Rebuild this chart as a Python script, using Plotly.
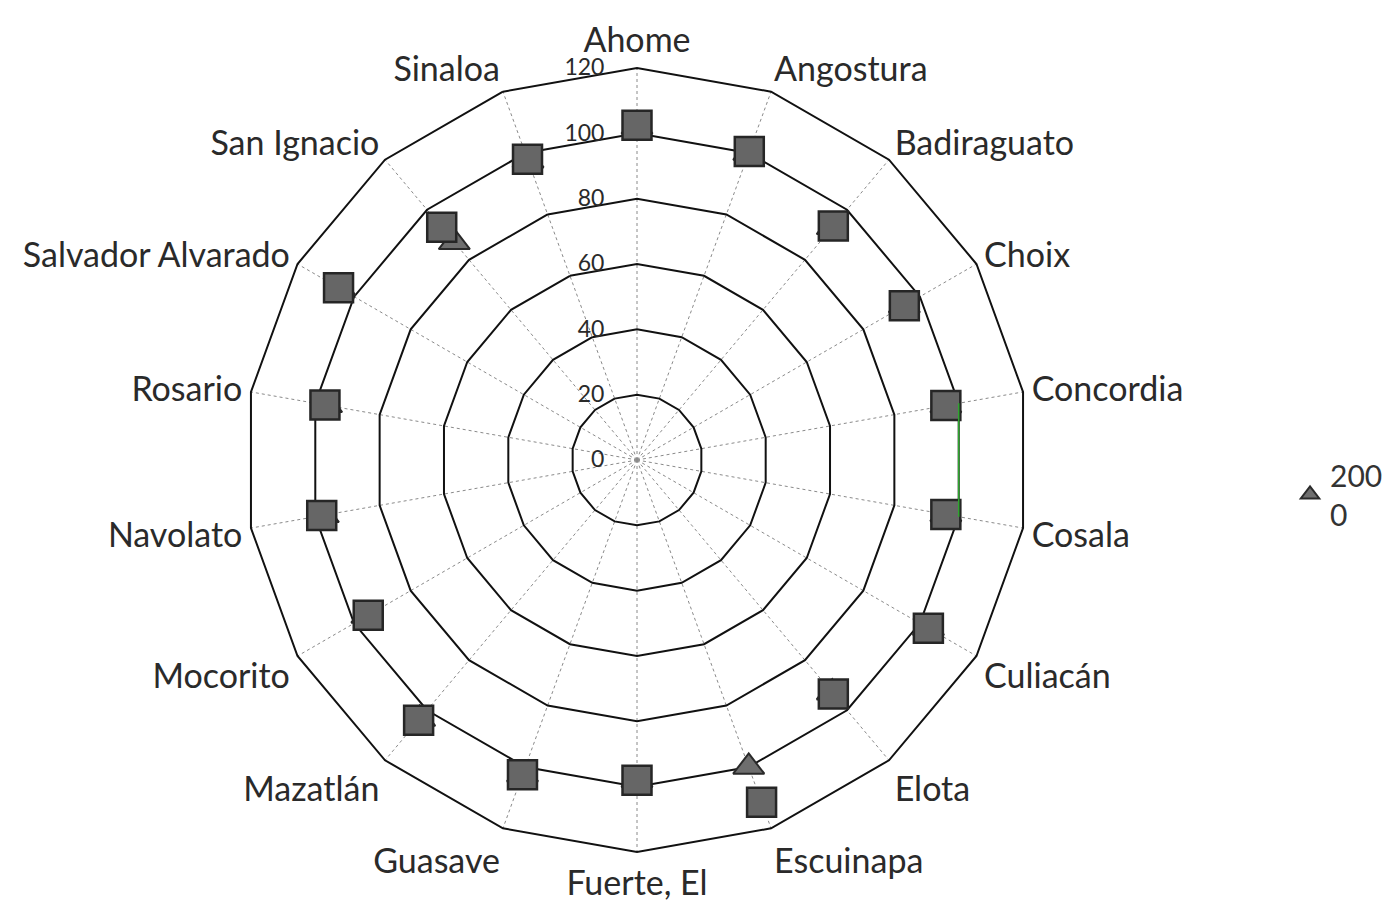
import plotly.graph_objects as go

categories = ["Ahome", "Angostura", "Badiraguato", "Choix", "Concordia", "Cosala",
              "Culiacán", "Elota", "Escuinapa", "Fuerte, El", "Guasave", "Mazatlán",
              "Mocorito", "Navolato", "Rosario", "Salvador Alvarado", "San Ignacio", "Sinaloa"]

series_2000 = [102, 100, 93, 94.5, 96, 96, 103, 93, 100, 98, 102.5, 103.5,
               95.5, 97.5, 96.5, 105, 87, 97.5]
series_2010 = [102.5, 100.5, 93.5, 94.5, 96, 96, 103, 93.5, 111.5, 98, 102.5, 104,
               95, 98, 97, 105.5, 93, 98]

highlight_cats = ["Concordia", "Cosala"]
highlight_vals = [100, 100]

radial_ticks = [0, 20, 40, 60, 80, 100, 120]

fig = go.Figure()

fig.add_trace(go.Scatterpolar(
    r=series_2000, theta=categories, mode="markers", name="200<br>0",
    marker=dict(symbol="triangle-up", size=27, color="#6e6e6e",
                line=dict(color="#2a2a2a", width=2)),
))
fig.add_trace(go.Scatterpolar(
    r=series_2010, theta=categories, mode="markers", name="2010",
    showlegend=False,
    marker=dict(symbol="square", size=29, color="#666666",
                line=dict(color="#262626", width=2.5)),
))
fig.add_trace(go.Scatterpolar(
    r=highlight_vals, theta=highlight_cats, mode="lines", showlegend=False,
    line=dict(color="#2fa52f", width=1.5),
))

cx, cy, R = 629, 452, 392
W, H = 1392, 911

fig.update_layout(
    width=W, height=H,
    margin=dict(l=0, r=0, t=0, b=0),
    paper_bgcolor="white",
    font=dict(family="Lato", color="#222222"),
    polar=dict(
        domain=dict(x=[(cx - R) / W, (cx + R) / W], y=[(H - cy - R) / H, (H - cy + R) / H]),
        bgcolor="white",
        gridshape="linear",
        angularaxis=dict(
            rotation=90, direction="clockwise", type="category",
            categoryorder="array", categoryarray=categories,
            showline=True, linecolor="#111111", linewidth=2,
            showgrid=True, gridcolor="#8a8a8a", gridwidth=1, griddash="dot",
            ticks="outside", ticklen=1, tickcolor="rgba(0,0,0,0)",
            tickfont=dict(size=34, family="Lato", color="#2a2a2a"),
        ),
        radialaxis=dict(
            range=[0, 120], tickvals=radial_ticks, angle=90, side="counterclockwise",
            showline=False, ticks="outside", ticklen=24, tickcolor="rgba(0,0,0,0)",
            showgrid=True, gridcolor="#111111", gridwidth=1.8,
            tickfont=dict(size=23, family="Lato", color="#2a2a2a"),
            tickangle=90,
        ),
    ),
    legend=dict(x=0.921, y=0.466, xanchor="left", yanchor="middle",
                font=dict(size=30, family="Lato", color="#333333"),
                bgcolor="rgba(0,0,0,0)"),
)

fig.write_html("out.html")
